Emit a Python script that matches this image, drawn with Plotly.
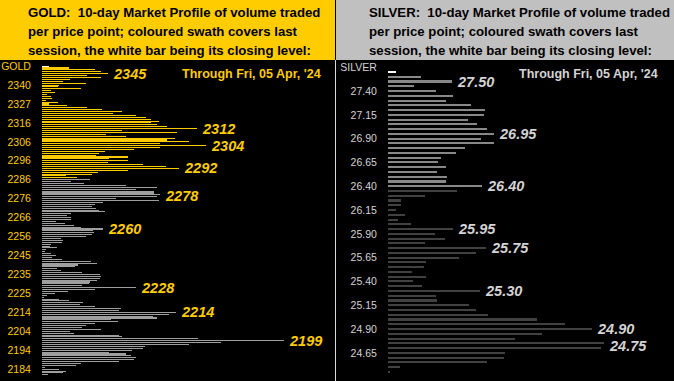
import numpy as np
import plotly.graph_objects as go

W, H = 674, 381

# ---------------- data ----------------
asof_text = "Through Fri, 05 Apr, '24"

gold_title = ["GOLD:&nbsp; 10-day Market Profile of volume traded",
              "per price point; coloured swath covers last",
              "session, the white bar being its closing level:"]
silver_title = ["SILVER:&nbsp; 10-day Market Profile of volume traded",
                "per price point; coloured swath covers last",
                "session, the white bar being its closing level:"]

gold_ticks = ["GOLD", "2340", "2327", "2316", "2306", "2296", "2286", "2276", "2266",
              "2256", "2245", "2235", "2225", "2214", "2204", "2194", "2184"]
gold_tick_prices = [2350, 2340, 2327, 2316, 2306, 2296, 2286, 2276, 2266,
                    2256, 2245, 2235, 2225, 2214, 2204, 2194, 2184]
gold_close = 2350
gold_session_low = 2287
gold_volume = [7, 27, 53, 59, 66, 45, 59, 28, 21, 44,
               17, 16, 39, 9, 13, 5, 9, 10, 4, 16,
               7, 25, 45, 60, 80, 71, 94, 104, 109, 117,
               109, 115, 125, 155, 80, 135, 64, 84, 133, 125,
               147, 118, 164, 118, 92, 63, 57, 54, 86, 67,
               86, 66, 101, 124, 137, 86, 56, 50, 24, 35,
               48, 29, 42, 84, 115, 94, 112, 112, 118, 115,
               74, 117, 61, 53, 50, 54, 57, 63, 29, 25,
               29, 29, 14, 23, 32, 39, 61, 51, 52, 50,
               44, 19, 21, 20, 9, 8, 15, 4, 3, 9,
               14, 10, 20, 49, 55, 36, 33, 15, 19, 40,
               58, 59, 58, 55, 48, 47, 40, 94, 53, 26,
               13, 5, 2, 17, 27, 41, 38, 53, 79, 77,
               134, 127, 111, 115, 69, 76, 53, 44, 40, 59,
               28, 32, 77, 80, 156, 242, 179, 147, 103, 101,
               90, 67, 84, 89, 94, 92, 77, 39, 34, 3,
               17, 24, 21, 6]
gold_peaks = ["2345", "2312", "2304", "2292", "2278", "2260", "2228", "2214", "2199"]

silver_ticks = ["SILVER", "27.40", "27.15", "26.90", "26.65", "26.40", "26.15",
                "25.90", "25.65", "25.40", "25.15", "24.90", "24.65"]
silver_tick_prices = [27.65, 27.40, 27.15, 26.90, 26.65, 26.40, 26.15,
                      25.90, 25.65, 25.40, 25.15, 24.90, 24.65]
silver_top_level = 27.60
silver_step = 0.05
silver_close = 27.60
silver_session_low = 26.40
silver_volume = [8, 33, 64, 26, 48, 65, 58, 83, 97, 96,
                 80, 89, 99, 106, 93, 106, 77, 68, 53, 50,
                 58, 49, 59, 58, 94, 69, 37, 13, 13, 8,
                 17, 10, 23, 65, 47, 57, 37, 98, 88, 71,
                 38, 36, 24, 38, 25, 34, 92, 48, 49, 81,
                 88, 100, 149, 177, 204, 154, 127, 216, 213, 117,
                 116, 99, 12, 2]
silver_peaks = ["27.50", "26.95", "26.40", "25.95", "25.75", "25.30", "24.90", "24.75"]

# ---------------- styling ----------------
GOLD_C = "#FFCC00"
GOLD_BAR = "rgba(255,204,0,0.99)"
GOLD_REST = "rgba(160,160,160,0.99)"
WHITE_BAR = "rgba(255,255,255,0.99)"
SILV_HDR = "#C0C0C0"
SILV_SWATH = "rgba(138,138,138,0.99)"
SILV_REST = "rgba(66,66,66,0.99)"
SILV_TXT = "#D4D4D4"
SANS = "Liberation Sans, Arial, sans-serif"


def px_x(x):
    return x / W


def px_y(y):
    return 1 - y / H


gold_rows = np.arange(len(gold_volume))
gold_tick_rows = np.arange(len(gold_ticks)) * 10
gold_levels = np.interp(gold_rows, gold_tick_rows, gold_tick_prices)
gold_colors = np.where(gold_levels >= gold_close, WHITE_BAR,
                       np.where(gold_levels >= gold_session_low, GOLD_BAR, GOLD_REST))

silver_levels = np.round(silver_top_level - silver_step * np.arange(len(silver_volume)), 2)
silver_colors = np.where(silver_levels >= silver_close - 1e-9, WHITE_BAR,
                         np.where(silver_levels >= silver_session_low - 1e-9, SILV_SWATH, SILV_REST))

fig = go.Figure()
fig.add_trace(go.Bar(x=gold_volume, y=gold_rows, orientation="h",
                     marker=dict(color=list(gold_colors), line=dict(width=0)),
                     width=0.56, xaxis="x", yaxis="y", hoverinfo="skip"))
fig.add_trace(go.Bar(x=silver_volume, y=silver_levels, orientation="h",
                     marker=dict(color=list(silver_colors), line=dict(width=0)),
                     width=0.022, xaxis="x2", yaxis="y2", hoverinfo="skip"))

annotations = []


def peak_anns(labels, levels, vols, ys, color, xref, yref):
    vols = np.asarray(vols)
    ys = np.asarray(ys, dtype=float)
    out = []
    for lab in labels:
        r = int(np.argmin(np.abs(levels - float(lab))))
        lo, hi = max(r - 1, 0), min(r + 2, len(vols))
        win = vols[lo:hi]
        top = win.max()
        near = win >= 0.97 * top
        yv = float(ys[lo:hi][near].mean())
        out.append(dict(x=top, y=yv, xref=xref, yref=yref,
                        text="<b><i>" + lab + "</i></b>", showarrow=False,
                        xanchor="left", yanchor="middle", align="left", xshift=4,
                        borderpad=0,
                        font=dict(family=SANS, size=14.5, color=color)))
    return out


annotations += peak_anns(gold_peaks, gold_levels, gold_volume, gold_rows, GOLD_C, "x", "y")
annotations += peak_anns(silver_peaks, silver_levels, silver_volume, silver_levels, SILV_TXT, "x2", "y2")

# headers
for i, line in enumerate(gold_title):
    annotations.append(dict(x=px_x(26), y=px_y(12.5 + 19 * i), xref="paper", yref="paper",
                            text="<b>" + line + "</b>", showarrow=False, xanchor="left",
                            align="left", yanchor="middle",
                            font=dict(family=SANS, size=13.2, color="#000000")))
for i, line in enumerate(silver_title):
    annotations.append(dict(x=px_x(367), y=px_y(12.5 + 19 * i), xref="paper", yref="paper",
                            text="<b>" + line + "</b>", showarrow=False, xanchor="left",
                            align="left", yanchor="middle",
                            font=dict(family=SANS, size=13.2, color="#000000")))

annotations.append(dict(x=px_x(180), y=px_y(73.5), xref="paper", yref="paper",
                        text="<b>" + asof_text + "</b>", showarrow=False, xanchor="left",
                        align="left", yanchor="middle",
                        font=dict(family=SANS, size=12.5, color=GOLD_C)))
annotations.append(dict(x=px_x(517), y=px_y(73.5), xref="paper", yref="paper",
                        text="<b>" + asof_text + "</b>", showarrow=False, xanchor="left",
                        align="left", yanchor="middle",
                        font=dict(family=SANS, size=12.5, color=SILV_TXT)))

shapes = [
    dict(type="rect", xref="paper", yref="paper", x0=0, x1=px_x(335), y0=px_y(60), y1=1,
         fillcolor=GOLD_C, line=dict(width=0), layer="below"),
    dict(type="rect", xref="paper", yref="paper", x0=px_x(336), x1=1, y0=px_y(60), y1=1,
         fillcolor=SILV_HDR, line=dict(width=0), layer="below"),
    dict(type="line", xref="paper", yref="paper", x0=px_x(335.5), x1=px_x(335.5), y0=0, y1=px_y(60),
         line=dict(color="#D8D8D8", width=1)),
]

fig.update_layout(
    width=W, height=H, margin=dict(l=0, r=0, t=0, b=0),
    paper_bgcolor="#000000", plot_bgcolor="#000000",
    showlegend=False, bargap=0,
    annotations=annotations, shapes=shapes,
    xaxis=dict(domain=[px_x(42), px_x(335)], range=[0, 293], visible=False, fixedrange=True),
    yaxis=dict(domain=[0, px_y(60)], range=[166.26, -3.22], tickvals=list(gold_tick_rows),
               ticktext=gold_ticks, ticks="outside", ticklen=8, tickcolor="#000000",
               showgrid=False, zeroline=False, showline=False, automargin=False,
               tickfont=dict(family=SANS, size=10.5, color=GOLD_C)),
    xaxis2=dict(domain=[px_x(388), 1], range=[0, 286], visible=False, anchor="y2", fixedrange=True),
    yaxis2=dict(domain=[0, px_y(60)], range=[24.354, 27.726], anchor="x2",
                tickvals=silver_tick_prices, ticktext=silver_ticks, ticks="outside", ticklen=8,
                tickcolor="#000000", showgrid=False, zeroline=False, showline=False, automargin=False,
                tickfont=dict(family=SANS, size=10.5, color=SILV_TXT)),
)

fig.write_html("out.html", config={"displayModeBar": False},
               post_script="document.body.style.margin='0px';document.body.style.overflow='hidden';")
